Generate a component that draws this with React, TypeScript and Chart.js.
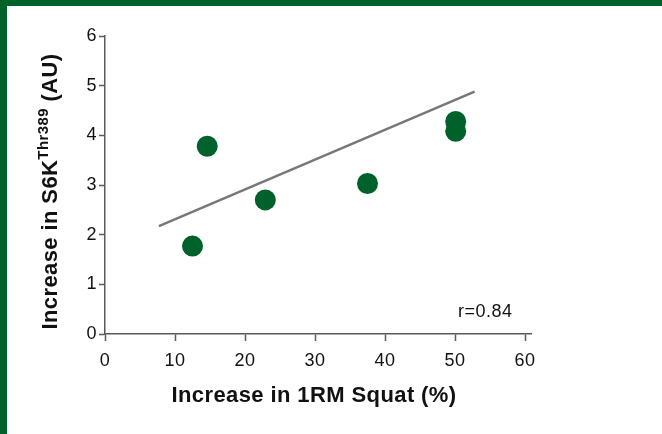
import React, { useEffect, useRef } from "react";
import { Chart, registerables } from "chart.js";

Chart.register(...registerables);

const squatIncrease = [12.5, 14.6, 22.9, 37.5, 50.1, 50.1];
const s6kIncrease = [1.77, 3.78, 2.7, 3.03, 4.28, 4.08];
const fitX = [7.7, 52.8];
const fitY = [2.17, 4.88];
const xTicks = [0, 10, 20, 30, 40, 50, 60];
const yTicks = [0, 1, 2, 3, 4, 5, 6];
const rText = "r=0.84";
const xTitle = "Increase in 1RM Squat (%)";
const yTitleMain = "Increase in S6K";
const yTitleSup = "Thr389";
const yTitleEnd = " (AU)";

const GREEN = "#00612A";
const AXIS = "#5a5a5a";
const FONT = "'Liberation Sans', Arial, Helvetica, sans-serif";

const textPlugin = {
  id: "customText",
  beforeDraw(chart: any) {
    (chart.ctx as any).letterSpacing = "0.5px";
  },
  afterDraw(chart: any) {
    const ctx = chart.ctx as CanvasRenderingContext2D;
    ctx.save();
    (ctx as any).letterSpacing = "0.4px";
    ctx.fillStyle = "#111";
    // x title
    ctx.font = `bold 22px ${FONT}`;
    ctx.textAlign = "center";
    ctx.textBaseline = "alphabetic";
    ctx.fillText(xTitle, 314, 402);
    // r text
    (ctx as any).letterSpacing = "0.5px";
    ctx.font = `18px ${FONT}`;
    ctx.textAlign = "left";
    ctx.fillText(rText, 458, 317);
    // y title rotated
    (ctx as any).letterSpacing = "0.4px";
    ctx.translate(57, 191.5);
    ctx.rotate(-Math.PI / 2);
    const mainFont = `bold 22px ${FONT}`;
    const supFont = `bold 15px ${FONT}`;
    ctx.font = mainFont;
    const w1 = ctx.measureText(yTitleMain).width;
    const w3 = ctx.measureText(yTitleEnd).width;
    ctx.font = supFont;
    const w2 = ctx.measureText(yTitleSup).width;
    const total = w1 + w2 + w3;
    let x = -total / 2;
    ctx.textAlign = "left";
    ctx.font = mainFont;
    ctx.fillText(yTitleMain, x, 0);
    x += w1;
    ctx.font = supFont;
    ctx.fillText(yTitleSup, x, -9);
    x += w2;
    ctx.font = mainFont;
    ctx.fillText(yTitleEnd, x, 0);
    ctx.restore();
  },
};

export default function App() {
  const ref = useRef<HTMLCanvasElement>(null);
  useEffect(() => {
    if (!ref.current) return;
    const chart = new Chart(ref.current, {
      type: "scatter",
      data: {
        datasets: [
          {
            type: "line",
            data: fitX.map((x, i) => ({ x, y: fitY[i] })),
            borderColor: "#777777",
            borderWidth: 2.5,
            pointRadius: 0,
            fill: false,
          } as any,
          {
            data: squatIncrease.map((x, i) => ({ x, y: s6kIncrease[i] })),
            backgroundColor: GREEN,
            borderColor: GREEN,
            pointRadius: 10.5,
            pointHoverRadius: 10.5,
            borderWidth: 0,
          },
        ],
      },
      options: {
        responsive: false,
        animation: false,
        devicePixelRatio: 1,
        layout: { padding: { left: 0, top: 36, right: 131, bottom: 0 } },
        plugins: { legend: { display: false }, tooltip: { enabled: false } },
        scales: {
          x: {
            type: "linear",
            min: 0,
            max: 60.857,
            afterBuildTicks: (s: any) => {
              s.ticks = xTicks.map((v) => ({ value: v }));
            },
            afterFit: (s: any) => {
              s.height = 100;
            },
            grid: {
              drawOnChartArea: false,
              drawTicks: true,
              tickLength: 7,
              tickColor: AXIS,
              tickWidth: 1.5,
            },
            border: { display: true, color: AXIS, width: 1.5 },
            ticks: {
              color: "#111",
              font: { family: FONT, size: 18 },
              padding: 9,
              maxRotation: 0,
            },
          },
          y: {
            type: "linear",
            min: 0,
            max: 6,
            afterBuildTicks: (s: any) => {
              s.ticks = yTicks.map((v) => ({ value: v }));
            },
            afterFit: (s: any) => {
              s.width = 105;
            },
            grid: {
              drawOnChartArea: false,
              drawTicks: true,
              tickLength: 6,
              tickColor: AXIS,
              tickWidth: 1.5,
            },
            border: { display: true, color: AXIS, width: 1.5 },
            ticks: {
              color: "#111",
              font: { family: FONT, size: 18 },
              padding: 2,
            },
          },
        },
      },
      plugins: [textPlugin],
    });
    return () => chart.destroy();
  }, []);
  return (
    <div
      style={{
        position: "fixed",
        left: 0,
        top: 0,
        width: 662,
        height: 434,
        background: "#fff",
        overflow: "hidden",
      }}
    >
      <div style={{ position: "absolute", left: 0, top: 0, width: 662, height: 6, background: GREEN }} />
      <div style={{ position: "absolute", left: 0, top: 0, width: 7, height: 434, background: GREEN }} />
      <canvas
        ref={ref}
        width={662}
        height={434}
        style={{ position: "absolute", left: 0, top: 0, width: 662, height: 434 }}
      />
    </div>
  );
}
